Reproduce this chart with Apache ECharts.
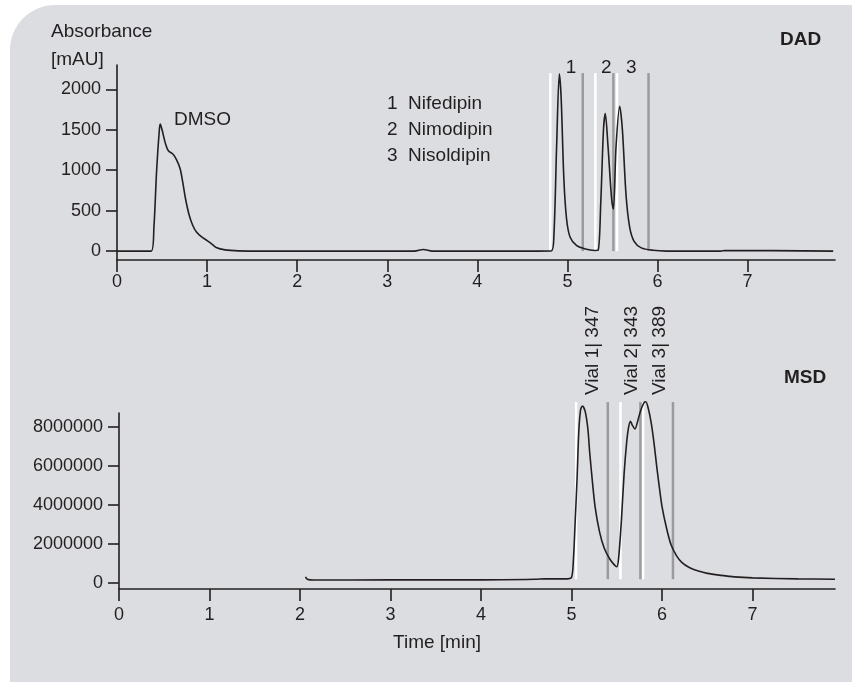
<!DOCTYPE html>
<html lang="en">
<head>
<meta charset="UTF-8">
<title>DAD / MSD</title>
<style>
    html, body { margin: 0; padding: 0; background: #fff; }
    .box { width: 852px; height: 682px; }
</style>
</head>
<body>
<div class="box" id="box"></div>
<script src="https://cdn.jsdelivr.net/npm/echarts@6/dist/echarts.min.js"></script>
<script>
var font = '"Liberation Sans", Arial, sans-serif';
var ink = '#231f20';

// DAD trace (time in min, absorbance in mAU)
var dadTime = [0, 0.38, 0.41, 0.44, 0.47, 0.48, 0.5, 0.54, 0.57, 0.62, 0.66, 0.7, 0.73, 0.76, 0.8, 0.84, 0.88, 0.94, 1.0, 1.05, 1.1, 1.2, 1.35, 1.6, 2.5, 3.3, 3.4, 3.5, 4.5, 4.82, 4.85, 4.88, 4.91, 4.93, 4.96, 4.99, 5.03, 5.1, 5.2, 5.3, 5.34, 5.37, 5.4, 5.42, 5.45, 5.49, 5.51, 5.54, 5.58, 5.61, 5.65, 5.69, 5.74, 5.82, 5.95, 6.1, 6.7, 6.75, 7.95];
var dadAbs  = [0, 0, 300, 1000, 1500, 1570, 1500, 1320, 1240, 1200, 1130, 1020, 850, 650, 450, 320, 240, 175, 130, 90, 45, 15, 3, 0, 0, 0, 20, 0, 0, 2, 200, 1300, 2190, 1900, 900, 400, 170, 70, 25, 8, 10, 600, 1500, 1700, 1300, 650, 520, 1300, 1790, 1500, 700, 300, 120, 40, 10, 0, 0, 8, 0];

// MSD trace (time in min, counts)
var msdTime   = [2.06, 2.08, 2.15, 3.0, 4.0, 4.6, 4.7, 4.95, 5.0, 5.02, 5.04, 5.06, 5.08, 5.1, 5.12, 5.15, 5.18, 5.2, 5.23, 5.26, 5.31, 5.36, 5.42, 5.47, 5.5, 5.52, 5.55, 5.58, 5.61, 5.63, 5.65, 5.67, 5.7, 5.73, 5.76, 5.8, 5.82, 5.85, 5.88, 5.91, 5.94, 5.97, 6.0, 6.05, 6.1, 6.16, 6.22, 6.3, 6.4, 6.5, 6.65, 6.8, 7.0, 7.5, 7.91];
var msdCounts = [320000, 200000, 160000, 170000, 170000, 200000, 220000, 220000, 300000, 1200000, 3200000, 5300000, 7800000, 8900000, 9080000, 8800000, 7900000, 6700000, 5200000, 3900000, 2600000, 1800000, 1250000, 950000, 840000, 1300000, 3200000, 5600000, 7300000, 8000000, 8300000, 8100000, 7900000, 8300000, 8800000, 9250000, 9300000, 8900000, 8200000, 7200000, 6000000, 4900000, 3900000, 2800000, 1950000, 1400000, 1050000, 800000, 620000, 500000, 400000, 320000, 270000, 220000, 200000];

// axis ticks
var timeTicks = [0, 1, 2, 3, 4, 5, 6, 7];
var dadTicks = [0, 500, 1000, 1500, 2000];
var msdTicks = [0, 2000000, 4000000, 6000000, 8000000];

// fraction collection windows: start (white) and end (grey)
var dadCutStart = [4.81, 5.31, 5.55];
var dadCutEnd   = [5.17, 5.51, 5.90];
var msdCutStart = [5.05, 5.54, 5.79];
var msdCutEnd   = [5.40, 5.76, 6.12];

var peakNames = ['1', '2', '3'];
var peakLabelTime = [5.04, 5.43, 5.71];
var compounds = ['1  Nifedipin', '2  Nimodipin', '3  Nisoldipin'];
var vialNames = ['Vial 1| 347', 'Vial 2| 343', 'Vial 3| 389'];
var vialLabelTime = [5.23, 5.66, 5.97];

function zip(xs, ys) {
    return xs.map(function (x, i) { return [x, ys[i]]; });
}

// one vertical line per cut, drawn as its own small line series
function cutSeries(times, y0, y1, color, axis) {
    return times.map(function (t) {
        return {
            type: 'line',
            xAxisIndex: axis, yAxisIndex: axis,
            data: [[t, y0], [t, y1]],
            symbol: 'none',
            clip: false,
            silent: true,
            z: 1,
            lineStyle: { color: color, width: 2.5 }
        };
    });
}

// plain numbers, no thousands separators
function plain(v) { return String(v); }

function xAxisOf(i, min, max, labelMargin) {
    return {
        type: 'value', gridIndex: i, min: min, max: max,
        axisLine: { onZero: false, lineStyle: { color: ink, width: 1.6 } },
        axisTick: { show: true, length: 12, lineStyle: { color: ink, width: 1.6 }, customValues: timeTicks },
        axisLabel: { color: ink, fontSize: 18, fontFamily: font, margin: labelMargin, customValues: timeTicks, formatter: plain },
        splitLine: { show: false }
    };
}

function yAxisOf(i, min, max, ticks) {
    return {
        type: 'value', gridIndex: i, min: min, max: max,
        axisLine: { show: true, lineStyle: { color: ink, width: 1.6 } },
        axisTick: { show: true, length: 11, lineStyle: { color: ink, width: 1.6 }, customValues: ticks },
        axisLabel: { color: ink, fontSize: 18, fontFamily: font, margin: 16, customValues: ticks, formatter: plain },
        splitLine: { show: false }
    };
}

var myChart = echarts.init(document.getElementById('box'));

var series = [
    {
        type: 'line', xAxisIndex: 0, yAxisIndex: 0,
        data: zip(dadTime, dadAbs),
        symbol: 'none', smooth: 0.3, z: 3, clip: false,
        lineStyle: { color: ink, width: 1.6 }
    },
    {
        type: 'line', xAxisIndex: 1, yAxisIndex: 1,
        data: zip(msdTime, msdCounts),
        symbol: 'none', smooth: 0.3, z: 3, clip: false,
        lineStyle: { color: ink, width: 1.6 }
    }
];
series = series
    .concat(cutSeries(dadCutStart, 0, 2200, '#ffffff', 0))
    .concat(cutSeries(dadCutEnd, 0, 2200, '#9b9b9e', 0))
    .concat(cutSeries(msdCutStart, 200000, 9280000, '#ffffff', 1))
    .concat(cutSeries(msdCutEnd, 200000, 9280000, '#9b9b9e', 1));

var option = {
    animation: false,
    backgroundColor: '#ffffff',
    textStyle: { fontFamily: font },
    grid: [
        { left: 117, right: 17, top: 65, bottom: 422 },
        { left: 119, right: 17, top: 413, bottom: 93 }
    ],
    xAxis: [
        xAxisOf(0, 0, 7.97, 13),
        xAxisOf(1, 0, 7.91, 17)
    ],
    yAxis: [
        yAxisOf(0, -110, 2300, dadTicks),
        yAxisOf(1, -300000, 8720000, msdTicks)
    ],
    series: series
};
myChart.setOption(option);

// annotations; the data-tied ones are placed through the axes' own scales
var txt = { fill: ink, fontSize: 19, fontFamily: font, verticalAlign: 'middle' };
function label(x, y, text, extra) {
    return { type: 'text', x: x, y: y, style: Object.assign({ text: text }, txt, extra || {}) };
}
var graphics = [
    {
        type: 'rect', z: -10, silent: true,
        shape: { x: 10, y: 5, width: 900, height: 720, r: [45, 42, 0, 45] },
        style: { fill: '#dcdde0' }
    },
    label(51, 32, 'Absorbance'),
    label(51, 60, '[mAU]'),
    label(780, 40, 'DAD', { fontWeight: 'bold' }),
    label(784, 378, 'MSD', { fontWeight: 'bold' }),
    label(174, 120, 'DMSO'),
    label(437, 643, 'Time [min]', { align: 'center' })
];
compounds.forEach(function (c, i) {
    graphics.push(label(387, 104 + i * 26, c));
});
peakNames.forEach(function (n, i) {
    var p = myChart.convertToPixel({ xAxisIndex: 0, yAxisIndex: 0 }, [peakLabelTime[i], 2260]);
    graphics.push(label(p[0], p[1], n, { align: 'center' }));
});
vialNames.forEach(function (n, i) {
    var p = myChart.convertToPixel({ xAxisIndex: 1, yAxisIndex: 1 }, [vialLabelTime[i], 9640000]);
    var g = label(p[0], p[1], n, { align: 'left' });
    g.rotation = Math.PI / 2;
    graphics.push(g);
});
myChart.setOption({ graphic: graphics });

window.addEventListener('resize', function () {
    myChart.resize();
});
</script>
</body>
</html>
